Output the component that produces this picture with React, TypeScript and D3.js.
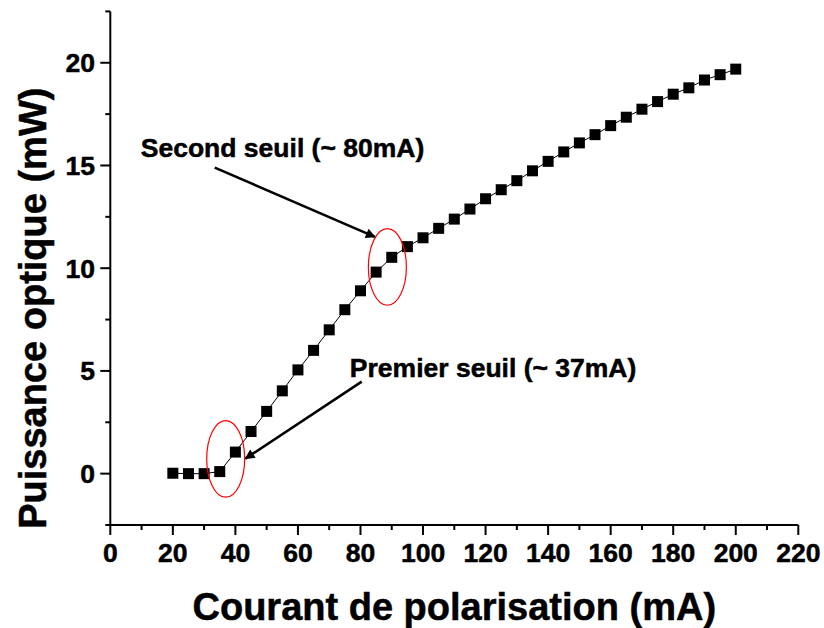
import React from "react";
import * as d3 from "d3";

const currents = [20,25,30,35,40,45,50,55,60,65,70,75,80,85,90,95,100,105,110,115,120,125,130,135,140,145,150,155,160,165,170,175,180,185,190,195,200];
const powers = [0.02,0,0,0.1,1.05,2.05,3.03,4.03,5.05,6.0,7.0,7.98,8.9,9.81,10.53,11.05,11.48,11.94,12.39,12.88,13.38,13.82,14.26,14.74,15.2,15.66,16.1,16.5,16.94,17.35,17.74,18.11,18.47,18.78,19.16,19.42,19.69];

const xTicks = [0,20,40,60,80,100,120,140,160,180,200,220];
const yTicks = [0,5,10,15,20];

const annotations = [
  { text: "Second seuil (~ 80mA)", tx: 9.75, ty: 15.41, ax0: 33.4, ay0: 14.9, ax1: 84.6, ay1: 11.52, ex: 88.6, ey: 10.06 },
  { text: "Premier seuil (~ 37mA)", tx: 76.6, ty: 4.71, ax0: 80.4, ay0: 4.48, ax1: 43.2, ay1: 0.73, ex: 36.9, ey: 0.72 },
];

const W = 824, H = 628;
const FONT = "'Liberation Sans', Arial, Helvetica, sans-serif";
const textStyle = { stroke: "#000", strokeWidth: 0.5 };

export default function App() {
  const x = d3.scaleLinear().domain([0, 220]).range([110.3, 798.3]);
  const y = d3.scaleLinear().domain([-2.5, 22.5]).range([525, 11.4]);
  const line = d3.line<number>().x((_, i) => x(currents[i])).y((d) => y(d));
  const xMinor = d3.range(10, 220, 20);
  const yMinor = d3.range(-2.5, 23, 5);
  const ms = 11;
  return (
    <svg width={W} height={H} style={{ position: "absolute", left: 0, top: 0, background: "#fff" }} fontFamily={FONT}>
      <defs>
        <marker id="ah" viewBox="0 0 10 10" refX="9" refY="5" markerWidth="5" markerHeight="4" markerUnits="strokeWidth" orient="auto">
          <path d="M0,0 L10,5 L0,10 Z" fill="#000" />
        </marker>
      </defs>
      {/* axes */}
      <line x1={x(0)} x2={x(220)} y1={y(-2.5)} y2={y(-2.5)} stroke="#000" strokeWidth={2} />
      <line x1={x(0)} x2={x(0)} y1={y(-2.5)} y2={y(22.5)} stroke="#000" strokeWidth={2} />
      {xTicks.map((t) => (
        <g key={"xt" + t}>
          <line x1={x(t)} x2={x(t)} y1={y(-2.5)} y2={y(-2.5) + 10} stroke="#000" strokeWidth={2} />
          <text x={x(t)} y={562} textAnchor="middle" fontSize={26.5} fontWeight="bold" style={textStyle}>{t}</text>
        </g>
      ))}
      {xMinor.map((t) => (
        <line key={"xm" + t} x1={x(t)} x2={x(t)} y1={y(-2.5)} y2={y(-2.5) + 5} stroke="#000" strokeWidth={2} />
      ))}
      {yTicks.map((t) => (
        <g key={"yt" + t}>
          <line x1={x(0) - 10} x2={x(0)} y1={y(t)} y2={y(t)} stroke="#000" strokeWidth={2} />
          <text x={95} y={y(t) + 9.5} textAnchor="end" fontSize={26.5} fontWeight="bold" style={textStyle}>{t}</text>
        </g>
      ))}
      {yMinor.map((t) => (
        <line key={"ym" + t} x1={x(0) - 5} x2={x(0)} y1={y(t)} y2={y(t)} stroke="#000" strokeWidth={2} />
      ))}
      {/* data */}
      <path d={line(powers) || ""} fill="none" stroke="#000" strokeWidth={1} />
      {powers.map((p, i) => (
        <rect key={"m" + i} x={x(currents[i]) - ms / 2} y={y(p) - ms / 2} width={ms} height={ms} fill="#000" />
      ))}
      {/* annotations */}
      {annotations.map((a, i) => (
        <g key={"a" + i}>
          <ellipse cx={x(a.ex)} cy={y(a.ey)} rx={19} ry={38.3} fill="none" stroke="#ff0000" strokeWidth={1.2} />
          <line x1={x(a.ax0)} y1={y(a.ay0)} x2={x(a.ax1)} y2={y(a.ay1)} stroke="#000" strokeWidth={2.5} markerEnd="url(#ah)" />
          <text x={x(a.tx)} y={y(a.ty)} fontSize={26.5} fontWeight="bold" style={textStyle}>{a.text}</text>
        </g>
      ))}
      {/* titles */}
      <text x={(x(0) + x(220)) / 2} y={620} textAnchor="middle" fontSize={38} fontWeight="bold" style={textStyle}>Courant de polarisation (mA)</text>
      <text transform={`translate(46, ${(y(-2.5) + y(22.5)) / 2 + 40}) rotate(-90)`} textAnchor="middle" fontSize={38} fontWeight="bold" style={textStyle}>Puissance optique (mW)</text>
    </svg>
  );
}
